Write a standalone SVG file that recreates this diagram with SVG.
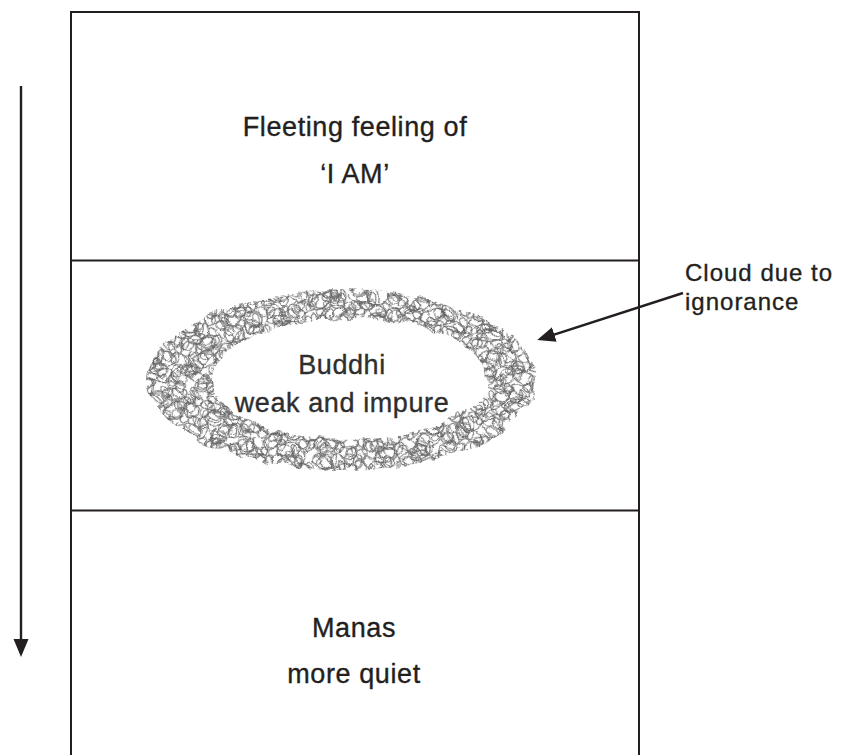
<svg xmlns="http://www.w3.org/2000/svg" width="845" height="755" viewBox="0 0 845 755">
<style>
.frame{fill:none;stroke:#231f20;stroke-width:2}
.lbl{font-family:"Liberation Sans",Arial,sans-serif;font-size:27px;letter-spacing:0.6px;fill:#231f20;stroke:#231f20;stroke-width:0.35;text-anchor:middle}
.lbl2{font-family:"Liberation Sans",Arial,sans-serif;font-size:24px;letter-spacing:1px;fill:#231f20;stroke:#231f20;stroke-width:0.35}
.arr{fill:none;stroke:#231f20;stroke-width:2.4}
.loop{fill:none;stroke:#5f5f5f;stroke-width:1}
</style>
<defs>
<marker id="head" markerUnits="userSpaceOnUse" markerWidth="20" markerHeight="16" refX="14" refY="7.5" orient="auto">
<path d="M0,0 L18,7.5 L0,15 Z" fill="#231f20"/>
</marker>
<pattern id="pA" width="40" height="34" patternUnits="userSpaceOnUse" patternTransform="rotate(12)">
<ellipse class="loop" cx="8" cy="8" rx="9" ry="6" transform="rotate(20 8 8)"/>
<ellipse class="loop" cx="24" cy="7" rx="6" ry="9" transform="rotate(-30 24 7)"/>
<ellipse class="loop" cx="30" cy="20" rx="9" ry="6" transform="rotate(10 30 20)"/>
<ellipse class="loop" cx="12" cy="23" rx="8" ry="7"/>
<ellipse class="loop" cx="20" cy="16" rx="5" ry="8" transform="rotate(60 20 16)"/>
<ellipse class="loop" cx="34" cy="29" rx="5" ry="4" transform="rotate(-40 34 29)"/>
<ellipse class="loop" cx="5" cy="29" rx="4" ry="5" transform="rotate(30 5 29)"/>
</pattern>
<pattern id="pB" width="46" height="38" patternUnits="userSpaceOnUse" patternTransform="rotate(-20)">
<ellipse class="loop" cx="11" cy="10" rx="10" ry="7" transform="rotate(-15 11 10)"/>
<ellipse class="loop" cx="32" cy="10" rx="9" ry="6" transform="rotate(40 32 10)"/>
<ellipse class="loop" cx="22" cy="25" rx="12" ry="7" transform="rotate(5 22 25)"/>
<ellipse class="loop" cx="39" cy="27" rx="5" ry="7"/>
<ellipse class="loop" cx="8" cy="30" rx="6" ry="5" transform="rotate(20 8 30)"/>
<ellipse class="loop" cx="21" cy="5" rx="5" ry="3"/>
</pattern>
<pattern id="pC" width="23" height="19" patternUnits="userSpaceOnUse" patternTransform="rotate(40)">
<ellipse class="loop" cx="6" cy="5" rx="5" ry="3" transform="rotate(30 6 5)"/>
<ellipse class="loop" cx="15" cy="10" rx="4" ry="6" transform="rotate(-20 15 10)"/>
<ellipse class="loop" cx="7" cy="14" rx="5" ry="4"/>
</pattern>
<clipPath id="ring">
<path clip-rule="evenodd" d="M146 378 a194 90 0 1 0 388 0 a194 90 0 1 0 -388 0 Z M209 377 a138 60 0 1 0 276 0 a138 60 0 1 0 -276 0 Z"/>
</clipPath>
<filter id="scribble" filterUnits="userSpaceOnUse" x="110" y="250" width="460" height="250">
<feTurbulence type="turbulence" baseFrequency="0.03" numOctaves="2" seed="7" result="t"/>
<feDisplacementMap in="SourceGraphic" in2="t" scale="9" xChannelSelector="R" yChannelSelector="G"/>
</filter>
</defs>

<g id="frame">
<rect class="frame" x="71" y="12" width="568" height="760"/>
<line class="frame" x1="71" y1="260.5" x2="639" y2="260.5"/>
<line class="frame" x1="71" y1="510.5" x2="639" y2="510.5"/>
</g>

<g id="cloud" filter="url(#scribble)">
<g clip-path="url(#ring)">
<rect x="130" y="270" width="420" height="210" fill="url(#pA)"/>
<rect x="130" y="270" width="420" height="210" fill="url(#pB)"/>
<rect x="130" y="270" width="420" height="210" fill="url(#pC)"/>
</g>
</g>

<g id="node-top">
<text class="lbl" x="355" y="136">Fleeting feeling of</text>
<text class="lbl" x="355" y="183">‘I AM’</text>
</g>
<g id="node-buddhi">
<text class="lbl" x="342" y="374" style="fill:#2e2e2e;stroke:#2e2e2e">Buddhi</text>
<text class="lbl" x="342" y="412" style="fill:#2e2e2e;stroke:#2e2e2e">weak and impure</text>
</g>
<g id="node-manas">
<text class="lbl" x="354" y="637">Manas</text>
<text class="lbl" x="354" y="683">more quiet</text>
</g>
<g id="node-cloud-label">
<text class="lbl2" x="685" y="281">Cloud due to</text>
<text class="lbl2" x="685" y="310">ignorance</text>
</g>

<g id="connectors">
<line class="arr" x1="21" y1="86" x2="21" y2="653" marker-end="url(#head)"/>
<line class="arr" x1="683" y1="293" x2="541" y2="338.8" marker-end="url(#head)"/>
</g>
</svg>
